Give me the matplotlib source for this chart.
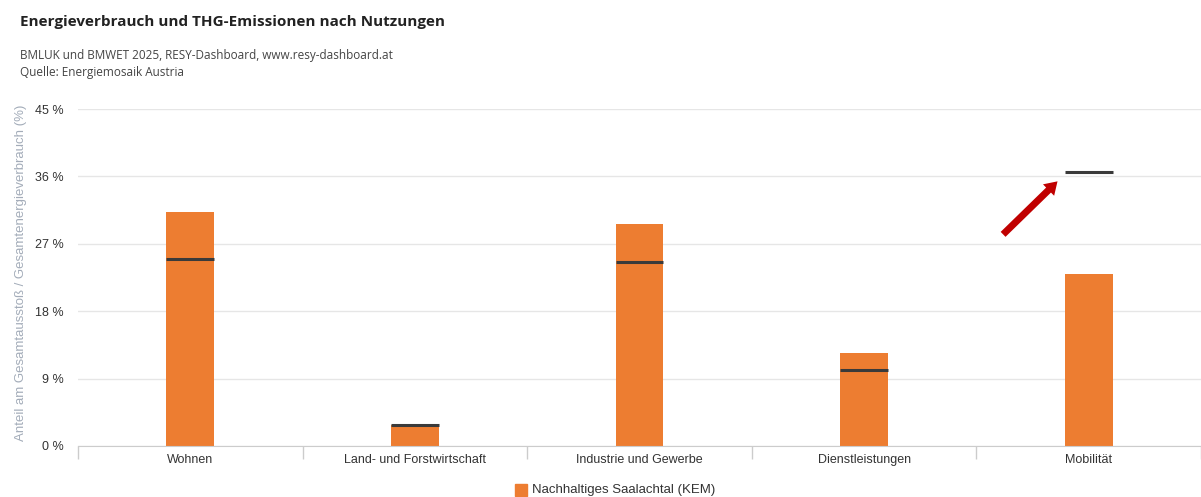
import numpy as np
import matplotlib
matplotlib.use("Agg")
import matplotlib.pyplot as plt

# data
categories = ["Wohnen", "Land- und Forstwirtschaft", "Industrie und Gewerbe",
              "Dienstleistungen", "Mobilität"]
bar_values = [31.2, 2.8, 29.6, 12.4, 23.0]      # Nachhaltiges Saalachtal (KEM)
ref_values = [25.0, 2.8, 24.6, 10.1, 36.6]      # reference markers
yticks = [0, 9, 18, 27, 36, 45]

fig = plt.figure(figsize=(12.01, 4.97), dpi=100)
ax = fig.add_axes([78 / 1201, 1 - 446 / 497, 1123 / 1201, (446 - 109) / 497])

x = np.arange(len(categories))
ax.bar(x, bar_values, width=48 / 226, color="#ed7d31", zorder=2)
ax.hlines(ref_values, x - 24 / 226, x + 24 / 226, color="#3a3a3a", lw=2.2, zorder=3)

ax.set_xlim(-0.5, -0.5 + 1123 / 226)
ax.set_ylim(0, 45)
ax.set_yticks(yticks)
ax.set_yticklabels([f"{t} %" for t in yticks], fontsize=9, color="#333333",
                   family="Liberation Sans")
ax.tick_params(axis="y", length=0, pad=10)
ax.grid(axis="y", color="#e6e6e6", lw=1, zorder=0)

ax.set_xticks(x)
ax.set_xticklabels(categories, fontsize=9, color="#333333", family="Liberation Sans")
ax.tick_params(axis="x", which="major", length=0, pad=6)
ax.set_xticks(np.arange(-0.5, 4.6, 1), minor=True)
ax.tick_params(axis="x", which="minor", length=9, color="#cccccc", width=1)

for s in ["top", "right", "left"]:
    ax.spines[s].set_visible(False)
ax.spines["bottom"].set_color("#cccccc")

fig.text(21 / 1201, 1 - 273 / 497, "Anteil am Gesamtausstoß / Gesamtenergieverbrauch (%)",
         fontsize=9.5, color="#a3acb9", family="Liberation Sans", rotation=90,
         ha="center", va="center")

# red arrow
ax.annotate("", xy=(3.87, 35.6), xytext=(3.61, 28.0),
            arrowprops=dict(arrowstyle="simple,head_length=0.9,head_width=1.15,tail_width=0.5",
                            color="#c00000", lw=0))

fig.text(20 / 1201, 1 - 22 / 497, "Energieverbrauch und THG-Emissionen nach Nutzungen",
         fontsize=11, fontweight="bold", color="#222222", va="center", family="Open Sans")
fig.text(20 / 1201, 1 - 56 / 497, "BMLUK und BMWET 2025, RESY-Dashboard, www.resy-dashboard.at",
         fontsize=8.5, color="#444444", va="center", family="Open Sans")
fig.text(20 / 1201, 1 - 72 / 497, "Quelle: Energiemosaik Austria",
         fontsize=8.5, color="#444444", va="center", family="Open Sans")

# legend at the bottom edge
fig.patches.append(plt.Rectangle((515 / 1201, 1 - 496 / 497), 12 / 1201, 12 / 497,
                                 transform=fig.transFigure, color="#ed7d31"))
fig.text(532 / 1201, 1 - 490 / 497, "Nachhaltiges Saalachtal (KEM)", fontsize=9.5,
         color="#333333", va="center", family="Liberation Sans")

fig.savefig("out.png", dpi=100)
